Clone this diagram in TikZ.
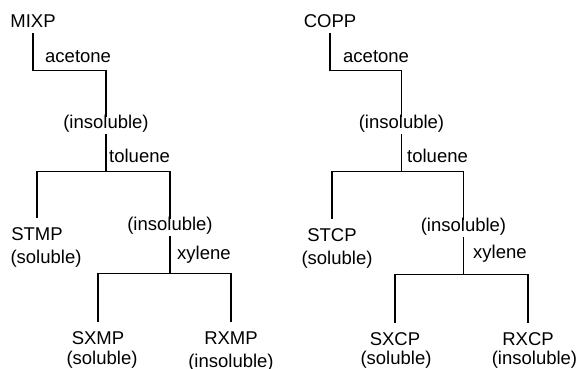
\documentclass[tikz,border=0pt]{standalone}
\usepackage{fontspec}
\setmainfont{Liberation Sans}
\usepackage{tikz}
\tikzstyle{sample}=[anchor=base,text height=.75em,text depth=.25em,inner sep=3.5pt]
\tikzstyle{leaf}=[sample,inner ysep=14pt]
\tikzstyle{phase}=[anchor=base,inner sep=0pt]
\tikzstyle{solvent}=[anchor=base west,inner sep=0pt]
\tikzstyle{undirectededge} = [draw,line width=1.1pt]

\begin{document}
\begin{tikzpicture}[x=1pt,y=-1pt,font=\fontsize{18.5}{22}\selectfont]

 \useasboundingbox (0,0) rectangle (579,368);

 %MIXP
 \def\dx{0}

   \foreach \x/\y/\name/\label in {33/27/mixp/MIXP, 106/128/mi1/(insoluble), 170/230/mi2/(insoluble)}
          \node[sample] (\name) at (\x+\dx, \y) {\label};

   \foreach \x/\y/\name/\label in {37/240/stmp/STMP, 98/344/sxmp/SXMP, 231/344/rxmp/RXMP}
          \node[leaf] (\name) at (\x+\dx, \y) {\label};

   \foreach \x/\y/\name/\label in {46/263/stmpph/(soluble), 102/364/sxmpph/(soluble), 231/367/rxmpph/(insoluble)}
          \node[phase] (\name) at (\x+\dx, \y) {\label};

   \foreach \x/\y/\name/\label in {45/62/mac/acetone, 109/162/mto/toluene, 177/259/mxy/xylene}
          \node[solvent] (\name) at (\x+\dx, \y) {\label};

  \foreach \source/ \dest in {mixp/mi1, mi1/stmp, mi1/mi2, mi2/sxmp, mi2/rxmp}
         \path[undirectededge] (\source.south) -- ++(0,37) -| (\dest.north);

 %COPP
 \def\dx{297}

   \foreach \x/\y/\name/\label in {33/27/copp/COPP, 104.5/128/co1/(insoluble), 166.5/231/co2/(insoluble)}
          \node[sample] (\name) at (\x+\dx, \y) {\label};

   \foreach \x/\y/\name/\label in {35/241/stcp/STCP, 98/345/sxcp/SXCP, 231/345/rxcp/RXCP}
          \node[leaf] (\name) at (\x+\dx, \y) {\label};

   \foreach \x/\y/\name/\label in {40/264/stcpph/(soluble), 99/364/sxcpph/(soluble), 237.5/364/rxcpph/(insoluble)}
          \node[phase] (\name) at (\x+\dx, \y) {\label};

   \foreach \x/\y/\name/\label in {46/62/cac/acetone, 110/162/cto/toluene, 176/258/cxy/xylene}
          \node[solvent] (\name) at (\x+\dx, \y) {\label};

  \foreach \source/ \dest in {copp/co1, co1/stcp, co1/co2, co2/sxcp, co2/rxcp}
         \path[undirectededge] (\source.south) -- ++(0,37) -| (\dest.north);

\end{tikzpicture}
\end{document}
